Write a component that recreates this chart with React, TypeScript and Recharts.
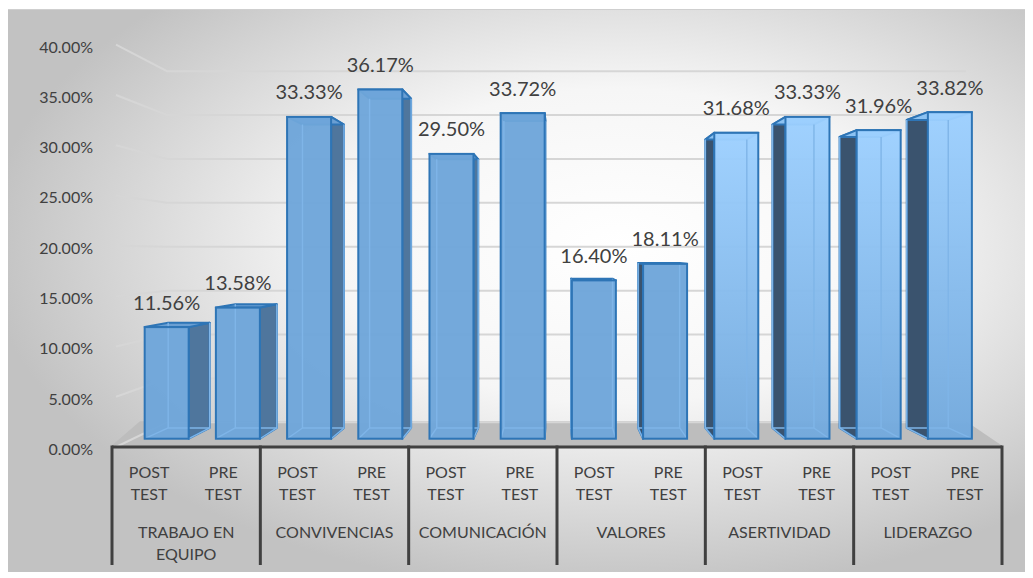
import React from 'react';
import { ComposedChart, Bar, XAxis, YAxis, CartesianGrid, LabelList } from 'recharts';

// ---------- data ----------
const groups = ['TRABAJO EN EQUIPO', 'CONVIVENCIAS', 'COMUNICACIÓN', 'VALORES', 'ASERTIVIDAD', 'LIDERAZGO'];
const testLabels = ['POST TEST', 'PRE TEST'];
const postTest = [11.56, 33.33, 29.5, 16.4, 31.68, 31.96];
const preTest = [13.58, 36.17, 33.72, 18.11, 33.33, 33.82];
const yTicks = [0, 5, 10, 15, 20, 25, 30, 35, 40];

const data = groups.flatMap((g, gi) => [
  { key: `${g}|POST`, group: g, test: testLabels[0], first: true, value: postTest[gi] },
  { key: `${g}|PRE`, group: g, test: testLabels[1], first: false, value: preTest[gi] },
]);

// ---------- layout / 3D style ----------
const W = 1020;
const H = 564;
const PLOT_LEFT = 106;
const PLOT_RIGHT = 996;
const PLOT_TOP = 35.7;
const PLOT_BOTTOM = 438;
const SLOT = (PLOT_RIGHT - PLOT_LEFT) / data.length;
// perspective: front plane of the bars
const BVX = 587;
const BVY = 231;
const BS = 0.96;
// back wall plane (gridlines)
const WVY = 244;
const WS = 0.873;
const WALL_BACK_X = 161;
const WALL_RIGHT_X = 960;
// bar depth
const DVX = 551;
const DVY = 241;
const DK = 0.057;
const FONT = "Lato, 'Open Sans', sans-serif";
const TXT = '#404040';

const pts = (a: number[][]) => a.map((p) => `${p[0]},${p[1]}`).join(' ');
const projBar = (px: number, py: number) => [BVX + BS * (px - BVX), BVY + BS * (py - BVY)];

function Bar3D(props: any) {
  const { x: x0, y: y0, width: w0, height: h0, index } = props;
  if (w0 == null || h0 == null) return null;
  const [x, y] = projBar(x0, y0);
  const [x2, base] = projBar(x0 + w0, y0 + h0);
  const width = x2 - x;
  const height = base - y;
  const bp = (px: number, py: number) => [px + DK * (DVX - px), py + DK * (DVY - py)];
  const flT = [x, y], frT = [x + width, y], flB = [x, base], frB = [x + width, base];
  const blT = bp(x, y), brT = bp(x + width, y), blB = bp(x, base), brB = bp(x + width, base);
  const cx = x + width / 2;
  const rightSide = cx < DVX;
  const side = rightSide ? [frT, brT, brB, frB] : [flT, blT, blB, flB];
  const sideFill = rightSide ? '#4f769d' : '#3a536e';
  const light = index >= 8;
  const frontFill = light ? 'url(#frontLight)' : '#6ea6da';
  const outline = '#2e75b6';
  const inner = '#7fb5e8';
  return (
    <g>
      <polygon points={pts(side)} fill={sideFill} stroke={outline} strokeWidth={2} strokeLinejoin="round" />
      <polygon points={pts([flT, frT, brT, blT])} fill={light ? '#8cc2f2' : '#6a9fd3'} stroke={outline} strokeWidth={2} strokeLinejoin="round" />
      <rect x={x} y={y} width={width} height={height} fill={frontFill} fillOpacity={0.96} />
      <polyline points={pts([blT, blB, brB, brT])} fill="none" stroke={inner} strokeWidth={1.4} />
      <line x1={flB[0]} y1={flB[1]} x2={blB[0]} y2={blB[1]} stroke={inner} strokeWidth={1.4} />
      <line x1={frB[0]} y1={frB[1]} x2={brB[0]} y2={brB[1]} stroke={inner} strokeWidth={1.4} />
      <rect x={x} y={y} width={width} height={height} fill="none" stroke={outline} strokeWidth={2} />
    </g>
  );
}

function DataLabel(props: any) {
  const { x, y, width, value } = props;
  const [px, py] = projBar(x + width / 2, y);
  return (
    <text x={px} y={py - 17.5} textAnchor="middle" fontSize={20} fontFamily={FONT} fill={TXT}>
      {Number(value).toFixed(2)}%
    </text>
  );
}

function YTick(props: any) {
  const { x, y, payload } = props;
  return (
    <text x={x} y={y + 2.3} dy="0.35em" textAnchor="end" fontSize={16} fontFamily={FONT} fill={TXT}>
      {Number(payload.value).toFixed(2)}%
    </text>
  );
}

function wrap(text: string, maxW: number, charW: number) {
  const words = text.split(' ');
  const lines: string[] = [];
  let cur = '';
  words.forEach((w) => {
    const t = cur ? `${cur} ${w}` : w;
    if (t.length * charW > maxW && cur) {
      lines.push(cur);
      cur = w;
    } else cur = t;
  });
  if (cur) lines.push(cur);
  return lines;
}

function CatTick(props: any) {
  const { x, y, payload } = props;
  const idx = data.findIndex((d) => d.key === payload.value);
  const row = data[idx];
  if (!row) return null;
  const testLines = row.test.split(' ');
  const isLast = idx === data.length - 1;
  const groupLines = wrap(row.group, 130, 9.6);
  return (
    <g>
      {testLines.map((t, i) => (
        <text key={i} x={x} y={y + 31 + i * 22} textAnchor="middle" fontSize={16} fontFamily={FONT} fill={TXT}>
          {t}
        </text>
      ))}
      {row.first &&
        groupLines.map((t, i) => (
          <text key={`g${i}`} x={x + SLOT / 2} y={y + 91 + i * 22} textAnchor="middle" fontSize={16} fontFamily={FONT} fill={TXT}>
            {t}
          </text>
        ))}
      {row.first && <line x1={x - SLOT / 2} y1={y - 1.5} x2={x - SLOT / 2} y2={y + 118} stroke={TXT} strokeWidth={3} />}
      {isLast && <line x1={x + SLOT / 2} y1={y - 1.5} x2={x + SLOT / 2} y2={y + 118} stroke={TXT} strokeWidth={3} />}
    </g>
  );
}

function GridLine(props: any) {
  const { x1, y1, index } = props;
  const yW = WVY + WS * (y1 - WVY);
  return (
    <path
      key={`gl-${index}`}
      d={`M${x1 + 4},${y1} L${WALL_BACK_X},${yW} L${WALL_RIGHT_X},${yW}`}
      fill="none"
      stroke="#d6d6d6"
      strokeWidth={2}
    />
  );
}

export default function App() {
  const floorBackY = WVY + WS * (PLOT_BOTTOM - WVY) - 1;
  return (
    <div style={{ position: 'relative', left: -2, top: 1, width: W, height: H }}>
      <svg width={W} height={H} style={{ position: 'absolute', left: 0, top: 0 }}>
        <defs>
          <radialGradient id="bgGrad" cx="0.6" cy="0.42" r="0.62">
            <stop offset="0" stopColor="#ffffff" />
            <stop offset="0.45" stopColor="#f6f6f6" />
            <stop offset="1" stopColor="#c2c2c2" />
          </radialGradient>
        </defs>
        <rect x={0.5} y={0.5} width={W - 1} height={H - 1} fill="url(#bgGrad)" stroke="#cfcfcf" />
        <polygon
          points={pts([[PLOT_LEFT - 2, PLOT_BOTTOM], [PLOT_RIGHT + 2, PLOT_BOTTOM], [WALL_RIGHT_X, floorBackY], [134, floorBackY]])}
          fill="#bdbdbd"
        />
      </svg>
      <div style={{ position: 'absolute', left: 0, top: 0 }}>
        <ComposedChart width={W} height={H} data={data} margin={{ top: PLOT_TOP, right: W - PLOT_RIGHT, bottom: 6, left: 0 }}>
          <defs>
            <linearGradient id="frontLight" x1="0" y1="0" x2="0" y2="1">
              <stop offset="0" stopColor="#9dd0ff" />
              <stop offset="1" stopColor="#72a9dd" />
            </linearGradient>
          </defs>
          <XAxis
            dataKey="key"
            type="category"
            height={120}
            interval={0}
            tickSize={0}
            tickMargin={0}
            tickLine={false}
            axisLine={{ stroke: TXT, strokeWidth: 3 }}
            tick={<CatTick />}
          />
          <YAxis
            type="number"
            domain={[0, 40]}
            ticks={yTicks}
            width={PLOT_LEFT}
            tickSize={0}
            tickMargin={19}
            axisLine={false}
            tickLine={false}
            tick={<YTick />}
          />
          <CartesianGrid vertical={false} horizontal={(p: any) => <GridLine {...p} />} />
          <Bar dataKey="value" barSize={44 / BS} isAnimationActive={false} shape={(p: any) => <Bar3D {...p} />}>
            <LabelList dataKey="value" content={(p: any) => <DataLabel {...p} />} />
          </Bar>
        </ComposedChart>
      </div>
    </div>
  );
}
